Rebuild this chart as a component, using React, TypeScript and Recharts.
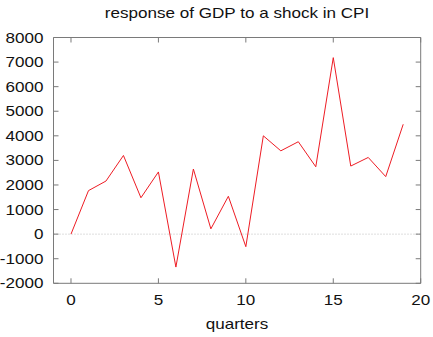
import { Line, LineChart, ReferenceLine, XAxis, YAxis } from "recharts";

// impulse response of GDP over 20 quarters
const quarters = [0, 1, 2, 3, 4, 5, 6, 7, 8, 9, 10, 11, 12, 13, 14, 15, 16, 17, 18, 19];
const gdpResponse = [
  0, 1770, 2160, 3200, 1480, 2530, -1340, 2650, 215, 1540, -510, 4000, 3390, 3760, 2740, 7180,
  2770, 3120, 2340, 4470,
];
const xTicks = [0, 5, 10, 15, 20];
const yTicks = [-2000, -1000, 0, 1000, 2000, 3000, 4000, 5000, 6000, 7000, 8000];

const data = quarters.map((q, i) => ({ q, gdp: gdpResponse[i] }));

const FONT = "'Liberation Sans', Arial, sans-serif";
const BORDER = "#7a7a7a";
const INK = "#111";
const STRETCH = 1.22;
const blank = () => "";

// text widened a little, anchored at (x, y)
function Label({ x, y, anchor, dy, size = 14, children }: any) {
  return (
    <text
      transform={`translate(${x},${y}) scale(${STRETCH},1)`}
      textAnchor={anchor}
      dy={dy}
      fontSize={size}
      fontFamily={FONT}
      fill={INK}
    >
      {children}
    </text>
  );
}

const YTick = ({ x, y, payload }: any) => (
  <Label x={x} y={y} anchor="end" dy="0.36em">
    {payload.value}
  </Label>
);

const XTick = ({ x, y, payload }: any) => (
  <Label x={x} y={y} anchor="middle" dy="0.74em">
    {payload.value}
  </Label>
);

export default function App() {
  return (
    <div style={{ position: "absolute", left: 0, top: 0, background: "#fff" }}>
      <style>{"body{margin:0}"}</style>
      <LineChart
        width={433}
        height={337}
        data={data}
        margin={{ top: 36.5, right: 11.3, bottom: 52.7, left: 52.5 }}
      >
        <Label x={237} y={17.5} anchor="middle">
          response of GDP to a shock in CPI
        </Label>
        <Label x={237} y={328.5} anchor="middle">
          quarters
        </Label>
        <XAxis
          xAxisId="b"
          dataKey="q"
          type="number"
          domain={[-1, 20]}
          ticks={xTicks}
          height={1}
          tickSize={-5}
          tickMargin={16.5}
          tick={<XTick />}
          stroke={BORDER}
          allowDataOverflow
        />
        <XAxis
          xAxisId="t"
          orientation="top"
          dataKey="q"
          type="number"
          domain={[-1, 20]}
          ticks={xTicks}
          height={1}
          tickSize={-5}
          tickFormatter={blank}
          stroke={BORDER}
          allowDataOverflow
        />
        <YAxis
          yAxisId="l"
          type="number"
          domain={[-2000, 8000]}
          ticks={yTicks}
          width={1}
          tickSize={-5}
          tickMargin={15}
          tick={<YTick />}
          stroke={BORDER}
          allowDataOverflow
        />
        <YAxis
          yAxisId="r"
          orientation="right"
          type="number"
          domain={[-2000, 8000]}
          ticks={yTicks}
          width={1}
          tickSize={-5}
          tickFormatter={blank}
          stroke={BORDER}
          allowDataOverflow
        />
        <ReferenceLine xAxisId="b" yAxisId="l" y={0} stroke="#bbbbbb" strokeDasharray="1 2" />
        <Line
          xAxisId="b"
          yAxisId="l"
          dataKey="gdp"
          type="linear"
          stroke="#ee1c24"
          strokeWidth={1}
          dot={false}
          isAnimationActive={false}
        />
      </LineChart>
    </div>
  );
}
